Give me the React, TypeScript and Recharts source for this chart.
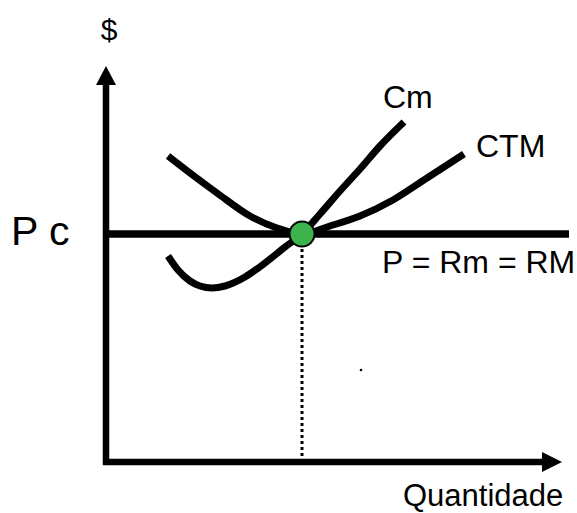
import { ComposedChart, Line, ReferenceDot, ReferenceLine, XAxis, YAxis } from "recharts"

// quantity (x) / price (y) readings
const cmCurve = [
  { q: 15.5, p: 51.5 },
  { q: 18, p: 48 },
  { q: 21, p: 45.25 },
  { q: 23.5, p: 44 },
  { q: 26.5, p: 43.5 },
  { q: 29.75, p: 44 },
  { q: 34.75, p: 46.25 },
  { q: 39.75, p: 49.75 },
  { q: 44.75, p: 53.75 },
  { q: 49, p: 57 },
  { q: 53.5, p: 62 },
  { q: 58.5, p: 67.75 },
  { q: 63.5, p: 73.25 },
  { q: 68.5, p: 79 },
  { q: 74.5, p: 85 },
]

const ctmCurve = [
  { q: 15.5, p: 76.5 },
  { q: 21, p: 72.25 },
  { q: 27.75, p: 67.25 },
  { q: 36, p: 61.5 },
  { q: 42.75, p: 58.5 },
  { q: 49, p: 57 },
  { q: 56, p: 59 },
  { q: 63.5, p: 61.5 },
  { q: 71.75, p: 65.5 },
  { q: 80.25, p: 71 },
  { q: 89.5, p: 77 },
]

const priceLevel = 57
const equilibriumQ = 49
const xMax = 115.75
const yMax = 95

const font = "'Liberation Sans', Arial, sans-serif"

function Label(props: any) {
  const { cx, cy, text, size = 32, anchor = "start" } = props
  return (
    <text x={cx} y={cy} fontSize={size} fontFamily={font} fill="#000" textAnchor={anchor}>
      {text}
    </text>
  )
}

function UpArrow(props: any) {
  const { cx, cy } = props
  return <polygon points={`${cx},${cy} ${cx - 10},${cy + 19} ${cx + 10},${cy + 19}`} fill="#000" />
}

function RightArrow(props: any) {
  const { cx, cy } = props
  return <polygon points={`${cx},${cy} ${cx - 20},${cy - 10} ${cx - 20},${cy + 10}`} fill="#000" />
}

export default function App() {
  return (
    <div style={{ width: 577, height: 513, background: "#fff" }}>
      <style>{`body{margin:0}`}</style>
      <ComposedChart width={577} height={513} margin={{ top: 0, right: 0, bottom: 0, left: 0 }}>
        <XAxis type="number" dataKey="q" domain={[-26.5, 117.75]} hide />
        <YAxis type="number" dataKey="p" domain={[-12.75, 115.5]} hide />

        <ReferenceLine segment={[{ x: 0, y: -0.75 }, { x: 0, y: yMax }]} stroke="#000" strokeWidth={6.5} />
        <ReferenceLine segment={[{ x: -0.75, y: 0 }, { x: 110, y: 0 }]} stroke="#000" strokeWidth={6.5} />
        <ReferenceLine segment={[{ x: 0, y: priceLevel }, { x: xMax, y: priceLevel }]} stroke="#000" strokeWidth={7.5} />
        <ReferenceLine
          segment={[{ x: equilibriumQ, y: 0 }, { x: equilibriumQ, y: priceLevel - 3 }]}
          stroke="#000"
          strokeWidth={3}
          strokeDasharray="3 3"
        />

        <Line
          data={cmCurve}
          dataKey="p"
          type="monotone"
          stroke="#000"
          strokeWidth={7}
          strokeLinecap="butt"
          dot={false}
          activeDot={false}
          isAnimationActive={false}
        />
        <Line
          data={ctmCurve}
          dataKey="p"
          type="monotone"
          stroke="#000"
          strokeWidth={7}
          strokeLinecap="butt"
          dot={false}
          activeDot={false}
          isAnimationActive={false}
        />

        <ReferenceDot x={0} y={99} shape={<UpArrow />} />
        <ReferenceDot x={114} y={0} shape={<RightArrow />} />
        <ReferenceDot x={equilibriumQ} y={priceLevel} r={12.5} fill="#3cb44b" stroke="#000" strokeWidth={2} />
        <ReferenceDot x={63.75} y={23} r={1.3} fill="#000" stroke="none" />

        <ReferenceDot x={0.75} y={105.5} shape={<Label text="$" anchor="middle" size={30} />} />
        <ReferenceDot x={69.25} y={88.5} shape={<Label text="Cm" />} />
        <ReferenceDot x={92.5} y={76.25} shape={<Label text="CTM" />} />
        <ReferenceDot x={69} y={47.25} shape={<Label text="P = Rm = RM" />} />
        <ReferenceDot x={74.25} y={-11} shape={<Label text="Quantidade" size={31} />} />
        <ReferenceDot x={-23.75} y={54.25} shape={<Label text="P c" size={41} />} />
      </ComposedChart>
    </div>
  )
}
